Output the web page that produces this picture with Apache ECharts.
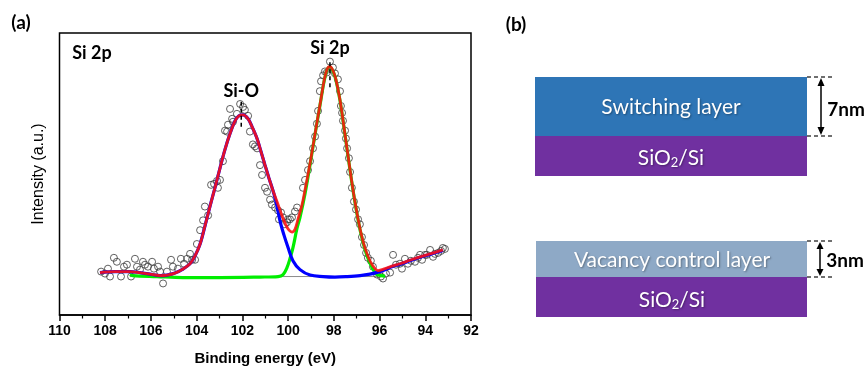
<!DOCTYPE html>
<html><head><meta charset="utf-8">
<script src="https://cdn.jsdelivr.net/npm/echarts@6/dist/echarts.min.js"></script>
<style>html,body{margin:0;padding:0;background:#fff}#c{width:866px;height:371px}</style>
</head><body><div id="c"></div>
<script>
// ---- data (binding energy in eV, intensity in a.u.) ----
const measured = [
[108.18,44],[108.01,42],[107.88,47],[107.79,39],[107.62,58],[107.49,54],[107.31,39],[107.18,49],[107.05,51],[106.87,39],
[106.70,57],[106.61,49],[106.48,46],[106.35,54],[106.26,51],[106.13,49],[105.95,54],[105.87,47],[105.69,49],[105.60,44],
[105.47,32],[105.30,44],[105.12,56],[105.04,49],[104.82,47],[104.69,57],[104.55,52],[104.42,57],[104.29,62],[104.20,56],
[104.07,56],[103.99,72],[103.85,86],[103.72,96],[103.64,110],[103.50,101],[103.37,132],[103.24,133],[103.11,136],[103.07,129],
[102.98,137],[102.85,156],[102.76,187],[102.67,186],[102.63,193],[102.54,209],[102.45,199],[102.41,196],[102.24,204],[102.10,214],
[101.97,211],[101.89,208],[101.75,202],[101.67,186],[101.54,173],[101.45,171],[101.36,169],[101.23,152],[101.14,142],[101.01,129],
[100.92,125],[100.79,117],[100.71,112],[100.57,109],[100.44,106],[100.40,97],[100.31,104],[100.22,99],[100.14,92],[100.05,94],
[100.01,97],[99.92,97],[99.83,99],[99.70,105],[99.61,109],[99.35,129],[99.26,137],[99.13,147],[99.04,156],[98.91,169],
[98.82,181],[98.74,194],[98.69,207],[98.61,227],[98.56,237],[98.47,243],[98.39,247],[98.30,246],[98.17,257],[98.04,251],
[97.95,245],[97.82,239],[97.73,227],[97.69,212],[97.64,205],[97.60,197],[97.51,187],[97.47,179],[97.42,169],[97.34,159],
[97.29,145],[97.21,129],[97.12,115],[97.03,107],[96.94,97],[96.86,92],[96.77,79],[96.68,71],[96.59,63],[96.51,58],
[96.38,55],[96.29,49],[96.11,41],[95.94,39],[95.85,37],[95.72,42],[95.54,43],[95.41,61],[95.28,51],[95.11,52],
[95.02,47],[94.89,57],[94.76,52],[94.63,55],[94.45,54],[94.32,58],[94.23,61],[94.14,56],[94.01,61],[93.93,61],
[93.79,66],[93.66,59],[93.58,62],[93.44,63],[93.31,65],[93.23,68],[93.14,67]
];
const envelopeFit = [
[108.23,43],[107.57,44],[106.92,44],[106.48,43],[106.04,41.5],[105.60,40],[105.30,40.5],[104.95,42.5],[104.64,46],[104.29,52],
[104.07,60],[103.85,72],[103.64,90],[103.42,110],[103.20,129],[102.98,149],[102.76,168],[102.54,184],[102.32,197],[102.15,202],
[101.97,203],[101.75,199],[101.58,191],[101.36,179],[101.19,166],[101.01,152],[100.84,139],[100.66,126],[100.44,112],[100.27,101],
[100.09,91],[99.96,86],[99.83,84],[99.70,87],[99.57,97],[99.39,112],[99.26,127],[99.04,154],[98.82,184],[98.60,214],
[98.43,237],[98.30,249],[98.17,252],[98.04,248],[97.91,239],[97.73,218],[97.51,183],[97.29,147],[97.07,114],[96.85,87],
[96.64,68],[96.42,55],[96.20,47],[96.07,45],[95.76,47],[95.46,49.5],[95.10,52],[94.67,55.5],[94.23,59],[93.79,62],[93.23,66]
];
const siOxideFit = [
[108.23,43],[107.57,44],[106.92,44],[106.48,43],[106.04,41.5],[105.60,40],[105.30,40.5],[104.95,42.5],[104.64,46],[104.29,52],
[104.07,60],[103.85,72],[103.64,90],[103.42,110],[103.20,129],[102.98,149],[102.76,168],[102.54,184],[102.32,197],[102.15,202],
[101.97,203],[101.75,199],[101.58,191],[101.36,179],[101.19,166],[101.01,152],[100.84,139],[100.66,126],[100.53,115],[100.35,95],
[100.18,81],[100.01,69],[99.79,55],[99.48,46],[99.04,40.5],[98.47,39],[97.95,38.5],[97.42,39],[96.85,40],[96.42,41.5],
[96.07,43.5],[95.76,46],[95.46,49],[95.10,51.5],[94.67,55],[94.23,58.5],[93.79,61.5],[93.23,65.5]
];
const siElementalFit = [
[106.92,41],[106.79,40],[105.74,39],[104.60,38],[102.98,38],[101.23,38.5],[100.44,39],[100.22,41],[100.05,48],[99.92,57],
[99.79,68],[99.61,88],[99.48,99],[99.26,123],[99.04,152.5],[98.82,183.5],[98.60,213.5],[98.43,236.5],[98.30,248.5],[98.17,251.5],
[98.04,247.5],[97.91,238.5],[97.73,217.5],[97.51,182.5],[97.29,146.5],[97.07,113.5],[96.85,86],[96.64,66.5],[96.42,52.5],[96.20,43],
[96.07,40.5],[95.76,39.5]
];
const baselineFit = [[106.92,39],[96.07,39]];
const peakNames = ['Si-O', 'Si 2p'];
const peakPositions = [102.05, 98.17];
const peakLabelHeights = [227, 271];
const peakMarkerRanges = [[191, 219], [231, 259]];
const xMin = 92, xMax = 110, xStep = 2;

const chart = echarts.init(document.getElementById('c'), null, {renderer: 'canvas'});
const calibri = 'Lato, "Open Sans", sans-serif';
const arial = '"Liberation Sans", Arial, sans-serif';

const series = [
  {type:'line', name:'baseline', data: baselineFit, symbol:'none', z:1,
   lineStyle:{color:'#8c8c8c', width:1}},
  {type:'scatter', name:'measured', data: measured, symbol:'circle', symbolSize:7, z:2,
   itemStyle:{color:'rgba(255,255,255,0)', borderColor:'#3a3a3a', borderWidth:1}},
  {type:'line', name:'Si', data: siElementalFit, symbol:'none', smooth:0.35, z:3,
   lineStyle:{color:'#00ee00', width:3.2}},
  {type:'line', name:'Si-O', data: siOxideFit, symbol:'none', smooth:0.35, z:4,
   lineStyle:{color:'#0000ff', width:3.2}},
  {type:'line', name:'envelope', data: envelopeFit, symbol:'none', smooth:0.35, z:5,
   lineStyle:{color:'#ff1010', width:2.8, opacity:0.88}}
];
peakPositions.forEach((p, i) => {
  series.push({type:'line', data:[[p, peakMarkerRanges[i][0]],[p, peakMarkerRanges[i][1]]], symbol:'none', z:6,
    lineStyle:{color:'#000', width:1.5, type:[4,3]}});
});

const dash = {stroke:'#404040', lineWidth:1.5, lineDash:[4,3]};
const blk = {stroke:'#000', lineWidth:1.5};
function txt(x, y, text, size, weight, fill, extra){
  return {type:'text', z:100, style:Object.assign({x:x, y:y, text:text, fontSize:size, fontWeight:weight, fontFamily:calibri,
    fill:fill, align:'center', verticalAlign:'middle', textAlign:'center', textVerticalAlign:'middle'}, extra||{})};
}
const boxShadow = {textShadowColor:'rgba(0,0,0,0.35)', textShadowBlur:2, textShadowOffsetX:1, textShadowOffsetY:1};
const subRich = {
  a:Object.assign({fontSize:21, fontFamily:calibri, fill:'#fff', lineHeight:24, verticalAlign:'bottom'}, boxShadow),
  s:Object.assign({fontSize:13, fontFamily:calibri, fill:'#fff', lineHeight:6, verticalAlign:'bottom'}, boxShadow)
};
const graphic = [
  txt(21, 23, '(a)', 19, 'bold', '#000'),
  txt(516, 25, '(b)', 19, 'bold', '#000'),
  txt(92, 53, 'Si 2p', 18, 'bold', '#000'),
  // top stack
  {type:'rect', shape:{x:535, y:77, width:272, height:59}, style:{fill:'#2e75b6'}},
  {type:'rect', shape:{x:535, y:136, width:272, height:40}, style:{fill:'#7030a0'}},
  txt(671, 107, 'Switching layer', 21, 'normal', '#fff', boxShadow),
  txt(671, 157, '{a|SiO}{s|2}{a|/Si}', 21, 'normal', '#fff', {rich:subRich}),
  {type:'line', shape:{x1:807, y1:77, x2:834, y2:77}, style:dash},
  {type:'line', shape:{x1:807, y1:136, x2:834, y2:136}, style:dash},
  {type:'line', shape:{x1:821, y1:80, x2:821, y2:133}, style:blk},
  {type:'polygon', shape:{points:[[821,78],[817.5,86],[824.5,86]]}, style:{fill:'#000'}},
  {type:'polygon', shape:{points:[[821,135],[817.5,127],[824.5,127]]}, style:{fill:'#000'}},
  txt(846, 110, '7nm', 19, 'bold', '#000'),
  // bottom stack
  {type:'rect', shape:{x:536, y:241, width:271, height:36}, style:{fill:'#8ea9c6'}},
  {type:'rect', shape:{x:536, y:277, width:271, height:40}, style:{fill:'#7030a0'}},
  txt(672, 260, 'Vacancy control layer', 21, 'normal', '#fff', boxShadow),
  txt(672, 299, '{a|SiO}{s|2}{a|/Si}', 21, 'normal', '#fff', {rich:subRich}),
  {type:'line', shape:{x1:807, y1:241, x2:834, y2:241}, style:dash},
  {type:'line', shape:{x1:807, y1:277, x2:834, y2:277}, style:dash},
  {type:'line', shape:{x1:820, y1:244, x2:820, y2:274}, style:blk},
  {type:'polygon', shape:{points:[[820,242],[816.5,249],[823.5,249]]}, style:{fill:'#000'}},
  {type:'polygon', shape:{points:[[820,276],[816.5,269],[823.5,269]]}, style:{fill:'#000'}},
  txt(845, 261, '3nm', 19, 'bold', '#000')
];

chart.setOption({
  animation:false,
  backgroundColor:'#fff',
  grid:{left:59.5, top:33, width:411.5, height:286, show:true, borderColor:'#000', borderWidth:1.5, backgroundColor:'transparent'},
  xAxis:{type:'value', min:xMin, max:xMax, interval:xStep, inverse:true,
    name:'Binding energy (eV)', nameLocation:'middle', nameGap:36,
    nameTextStyle:{fontFamily:arial, fontWeight:'bold', fontSize:15, color:'#000'},
    axisLine:{show:true, lineStyle:{color:'#000', width:1.5}},
    axisTick:{show:true, inside:false, length:6, lineStyle:{color:'#000', width:1.5}},
    minorTick:{show:true, splitNumber:2, length:3.5, lineStyle:{color:'#000', width:1.2}},
    axisLabel:{margin:9, fontFamily:arial, fontWeight:'bold', fontSize:14, color:'#000'},
    splitLine:{show:false}, minorSplitLine:{show:false}},
  yAxis:{type:'value', min:0, max:286,
    name:'Intensity (a.u.)', nameLocation:'middle', nameGap:13, nameRotate:90,
    nameTextStyle:{fontFamily:arial, fontSize:16, color:'#000'},
    axisLine:{show:false}, axisTick:{show:false}, axisLabel:{show:false}, splitLine:{show:false}},
  series: series,
  graphic: graphic
});

// peak labels placed through the axis scales
const peakLabelEls = peakNames.map((n, i) => {
  const pt = chart.convertToPixel({gridIndex:0}, [peakPositions[i], peakLabelHeights[i]]);
  return txt(pt[0], pt[1], n, 18, 'bold', '#000');
});
chart.setOption({graphic: graphic.concat(peakLabelEls)});
</script></body></html>
